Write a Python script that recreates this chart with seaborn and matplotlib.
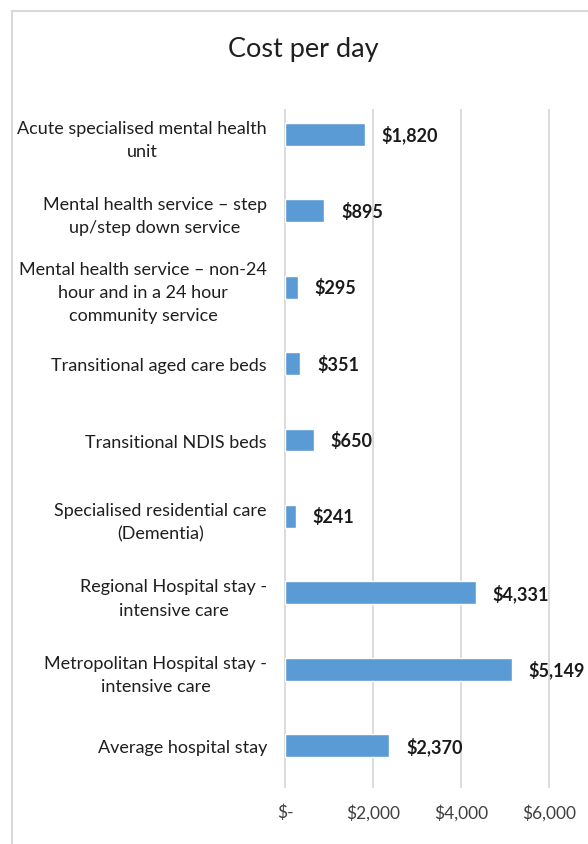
import pandas as pd
import seaborn as sns
import matplotlib.pyplot as plt
from matplotlib.patches import Rectangle
from matplotlib.ticker import FuncFormatter

# Data
categories = [
    "Acute specialised mental health\nunit",
    "Mental health service – step\nup/step down service",
    "Mental health service – non-24\nhour and in a 24 hour\ncommunity service",
    "Transitional aged care beds",
    "Transitional NDIS beds",
    "Specialised residential care\n(Dementia)",
    "Regional Hospital stay -\nintensive care",
    "Metropolitan Hospital stay -\nintensive care",
    "Average hospital stay",
]
cost = [1820, 895, 295, 351, 650, 241, 4331, 5149, 2370]
x_ticks = [0, 2000, 4000, 6000]

df = pd.DataFrame({"Service": categories, "Cost": cost})

sns.set_theme(style="white")
plt.rcParams["font.family"] = ["Lato", "DejaVu Sans"]

fig = plt.figure(figsize=(5.88, 8.45), dpi=100)
ax = fig.add_axes([0.4847, 0.0710, 0.449, 0.8142])

sns.barplot(data=df, x="Cost", y="Service", orient="h", color="#5B9BD5",
            width=0.3, saturation=1, ax=ax, zorder=3)

ax.set_xlim(0, 6000)
ax.set_ylim(len(cost) - 0.5, -0.5)
ax.set_xticks(x_ticks)
ax.xaxis.set_major_formatter(FuncFormatter(lambda v, p: "$-" if v == 0 else f"${v:,.0f}"))
# gridlines drawn a little shorter at the top, longer at the bottom, like Excel
ax.vlines(x_ticks, -0.33, len(cost) - 0.45, color="#d9d9d9", linewidth=1.3,
          zorder=1, clip_on=False)
for s in ax.spines.values():
    s.set_visible(False)
ax.set_xlabel("")
ax.set_ylabel("")
ax.tick_params(axis="x", length=0, pad=14, labelsize=12.5, labelcolor="#404040")
ax.tick_params(axis="y", length=0, pad=13, labelsize=13, labelcolor="#1f1f1f")
for lab in ax.get_yticklabels():
    lab.set_multialignment("center")
    lab.set_linespacing(1.55)

# value labels
for i, v in enumerate(cost):
    ax.annotate(f"${v:,.0f}", (v, i), xytext=(12, 0), textcoords="offset points",
                va="center", ha="left", fontsize=13, fontweight="bold", color="#1a1a1a")

fig.text(0.516, 0.942, "Cost per day", ha="center", va="center", fontsize=19.5, color="#1f1f1f")

# chart border, Excel style
fig.patches.append(Rectangle((12 / 588, -0.1), 1.2, 1 - 12 / 845 + 0.1,
                             transform=fig.transFigure, fill=False,
                             edgecolor="#d9d9d9", linewidth=1.5))

plt.savefig("out.png", dpi=100)
